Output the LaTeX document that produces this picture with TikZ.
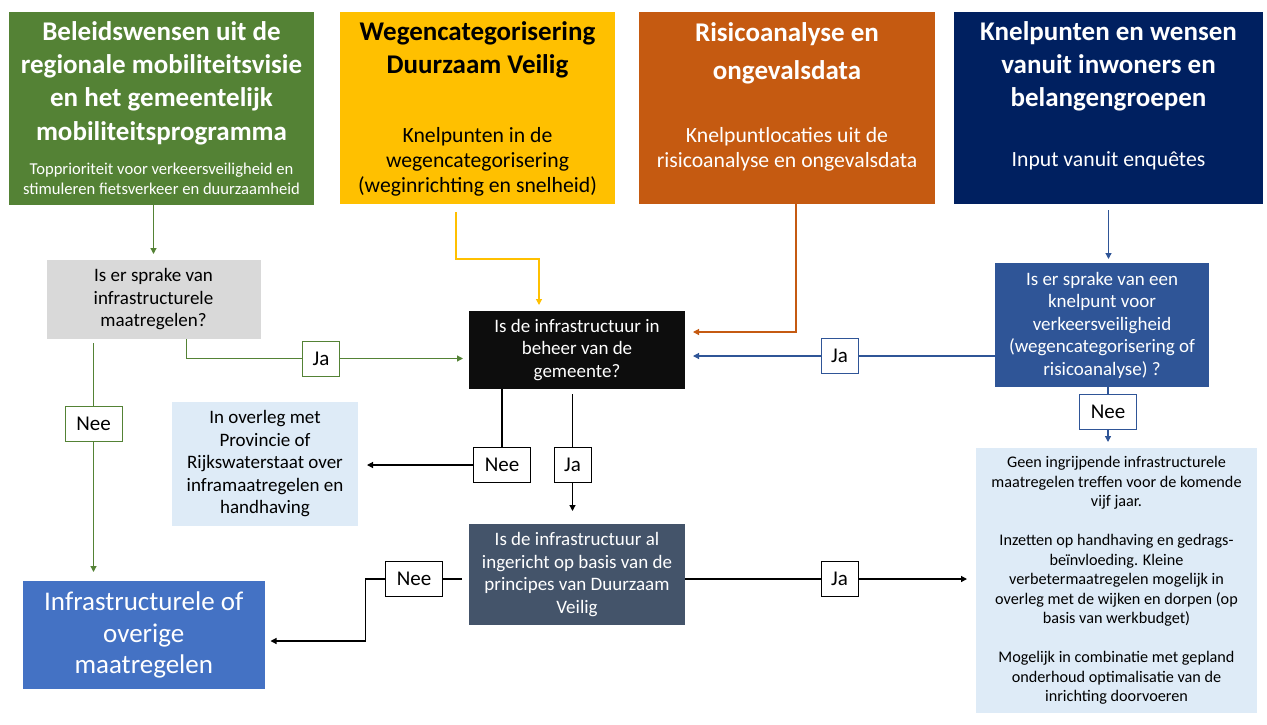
\documentclass[tikz,border=0pt]{standalone}
\usepackage{fontspec}
\setmainfont{Carlito}
\usetikzlibrary{arrows.meta,calc}
\definecolor{cgreen}{HTML}{548235}
\definecolor{cyellow}{HTML}{FFC000}
\definecolor{corange}{HTML}{C55A11}
\definecolor{cnavy}{HTML}{002060}
\definecolor{cgrey}{HTML}{D9D9D9}
\definecolor{cblack}{HTML}{0D0D0D}
\definecolor{cblue}{HTML}{2F5597}
\definecolor{clight}{HTML}{DEEBF7}
\definecolor{cslate}{HTML}{44546A}
\definecolor{cmid}{HTML}{4472C4}
\begin{document}
\begin{tikzpicture}[x=1pt,y=-1pt,
  box/.style={inner sep=0pt, outer sep=0pt, align=center},
  txt/.style={inner sep=0pt, outer sep=0pt, align=center},
  headfont/.style={font=\fontsize{27}{33.3}\selectfont\bfseries},
  subfont/.style={font=\fontsize{21.7}{25}\selectfont},
  qfont/.style={font=\fontsize{19}{22.5}\selectfont},
  lab/.style={draw, fill=white, line width=1pt, minimum height=35pt, inner sep=0pt, outer sep=0pt, font=\fontsize{21}{24}\selectfont},
  labja/.style={lab, minimum width=37pt},
  labnee/.style={lab, minimum width=57pt},
  line/.style={line width=1.2pt},
  conn/.style={line width=1.2pt, -{Triangle[width=6pt,length=6pt]}, shorten >=6pt}]
\useasboundingbox (0,0) rectangle (1267,724);

% top boxes
\node[box, fill=cgreen, minimum width=305pt, minimum height=193pt] (gbox) at (161.5,108.5) {};
\node[txt, headfont, text=white] (gh) at (161.5,83) {Beleidswensen uit de\\regionale mobiliteitsvisie\\en het gemeentelijk\\mobiliteitsprogramma};
\node[txt, font=\fontsize{16.6}{19.5}\selectfont, text=white] (gs) at (161.5,179) {Topprioriteit voor verkeersveiligheid en\\stimuleren fietsverkeer en duurzaamheid};

\node[box, fill=cyellow, minimum width=275pt, minimum height=192pt] (ybox) at (477.5,108) {};
\node[txt, headfont, text=black] (yh) at (477.5,49.5) {Wegencategorisering\\Duurzaam Veilig};
\node[txt, subfont, text=black] (ys) at (477.5,162) {Knelpunten in de\\wegencategorisering\\(weginrichting en snelheid)};

\node[box, fill=corange, minimum width=296pt, minimum height=192pt] (obox) at (787,108) {};
\node[txt, headfont, text=white] (oh) at (787,53) {Risicoanalyse en\\[5pt]ongevalsdata};
\node[txt, subfont, text=white] (os) at (787,149.5) {Knelpuntlocaties uit de\\risicoanalyse en ongevalsdata};

\node[box, fill=cnavy, minimum width=309pt, minimum height=192pt] (nbox) at (1108.5,108) {};
\node[txt, headfont, text=white] (nh) at (1108.5,66.5) {Knelpunten en wensen\\vanuit inwoners en\\belangengroepen};
\node[txt, subfont, text=white] (ns) at (1108.5,161) {Input vanuit enquêtes};

% decision boxes
\node[box, qfont, fill=cgrey, text=black, minimum width=214pt, minimum height=79pt] (gq) at (153.5,299.5) {Is er sprake van\\infrastructurele\\maatregelen?};
\node[box, qfont, fill=cblack, text=white, minimum width=216pt, minimum height=78pt] (bk) at (577,350) {Is de infrastructuur in\\beheer van de\\gemeente?};
\node[box, qfont, fill=cblue, text=white, minimum width=214pt, minimum height=124pt] (bl) at (1102,325) {Is er sprake van een\\knelpunt voor\\verkeersveiligheid\\(wegencategorisering of\\risicoanalyse) ?};
\node[box, qfont, fill=clight, text=black, minimum width=186pt, minimum height=124pt] (lf) at (265,464) {In overleg met\\Provincie of\\Rijkswaterstaat over\\inframaatregelen en\\handhaving};
\node[box, qfont, fill=cslate, text=white, minimum width=216pt, minimum height=101pt] (sl) at (577,574.5) {Is de infrastructuur al\\ingericht op basis van de\\principes van Duurzaam\\Veilig};
\node[box, font=\fontsize{27}{31.5}\selectfont, fill=cmid, text=white, minimum width=241.5pt, minimum height=108pt] (bm) at (143.75,635) {Infrastructurele of\\overige\\maatregelen};
\node[box, font=\fontsize{16.2}{19.5}\selectfont, fill=clight, text=black, minimum width=281pt, minimum height=265pt] (rt) at (1116.5,580.5) {Geen ingrijpende infrastructurele\\maatregelen treffen voor de komende\\vijf jaar.\\[19.5pt]Inzetten op handhaving en gedrags-\\beïnvloeding. Kleine\\verbetermaatregelen mogelijk in\\overleg met de wijken en dorpen (op\\basis van werkbudget)\\[19.5pt]Mogelijk in combinatie met gepland\\onderhoud optimalisatie van de\\inrichting doorvoeren};

% labels
\node[labja, draw=cgreen] (ja1) at (321,358.5) {Ja};
\node[labnee, draw=cgreen] (ne1) at (93.5,424) {Nee};
\node[labja, draw=cblue] (ja2) at (839.5,356) {Ja};
\node[labnee, draw=cblue] (ne2) at (1108,411.5) {Nee};
\node[labnee, draw=black] (ne3) at (502,465) {Nee};
\node[labja, draw=black] (ja3) at (572.5,464.5) {Ja};
\node[labnee, draw=black] (ne4) at (414,579) {Nee};
\node[labja, draw=black] (ja4) at (839.5,579) {Ja};

% connectors
\draw[conn, cgreen] (gq.north |- gbox.south) -- (gq.north);
\draw[line, cgreen] ($(gq.south)+(33,0)$) |- (ja1.west);
\draw[conn, cgreen] (ja1.east) -- (bk.west |- ja1.east);
\draw[line, cgreen] ($(gq.south -| ne1)+(0,4)$) -- (ne1.north);
\draw[conn, cgreen, shorten >=9pt] (ne1.south) -- (ne1.south |- bm.north);

\draw[conn, cyellow] ($(ybox.south)+(-21.5,8)$) -- ++(0,47) -| ($(bk.north west)+(70,0)$);
\draw[conn, corange, shorten >=8pt] ($(obox.south)+(9,0)$) |- ($(bk.east)+(0,-18)$);
\draw[conn, cblue, shorten >=4pt] ($(nbox.south)+(0,6)$) -- (nbox.south |- bl.north);

\draw[line, cblue] (bl.west |- ja2) -- (ja2.east);
\draw[conn, cblue, shorten >=8pt] (ja2.west) -- (bk.east |- ja2.west);
\draw[line, cblue] (bl.south -| ne2) -- (ne2.north);
\draw[conn, cblue] (ne2.south) -- (rt.north -| ne2.south);

\draw[line] (bk.south -| ne3) -- (ne3.north);
\draw[conn, shorten >=9pt] (ne3.west) -- (lf.east |- ne3.west);
\draw[line] ($(bk.south -| ja3)+(0,5)$) -- (ja3.north);
\draw[conn, shorten >=13pt] (ja3.south) -- (sl.north -| ja3.south);

\draw[line, shorten <=7pt] (sl.west |- ne4) -- (ne4.east);
\draw[conn] (ne4.west) -- ++(-20,0) |- ($(bm.east)+(0,6)$);
\draw[line] (sl.east |- ja4) -- (ja4.west);
\draw[conn, shorten >=9pt] (ja4.east) -- (rt.west |- ja4.east);
\end{tikzpicture}
\end{document}
